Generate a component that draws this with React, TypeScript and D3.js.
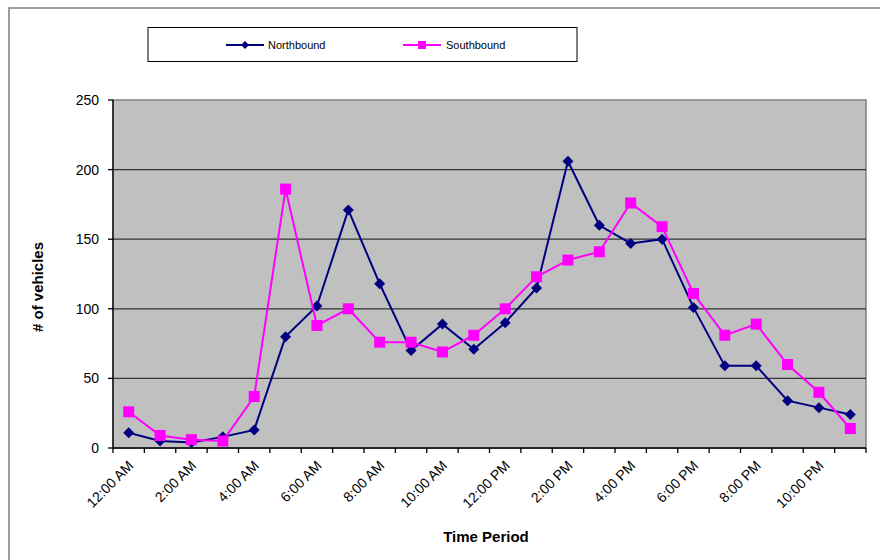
import React from "react";
import * as d3 from "d3";

const categories = [
  "12:00 AM", "1:00 AM", "2:00 AM", "3:00 AM", "4:00 AM", "5:00 AM",
  "6:00 AM", "7:00 AM", "8:00 AM", "9:00 AM", "10:00 AM", "11:00 AM",
  "12:00 PM", "1:00 PM", "2:00 PM", "3:00 PM", "4:00 PM", "5:00 PM",
  "6:00 PM", "7:00 PM", "8:00 PM", "9:00 PM", "10:00 PM", "11:00 PM",
];
const northbound = [11, 5, 4, 8, 13, 80, 102, 171, 118, 70, 89, 71, 90, 115, 206, 160, 147, 150, 101, 59, 59, 34, 29, 24];
const southbound = [26, 9, 6, 5, 37, 186, 88, 100, 76, 76, 69, 81, 100, 123, 135, 141, 176, 159, 111, 81, 89, 60, 40, 14];
const yTicks = [0, 50, 100, 150, 200, 250];
const shownLabels = ["12:00 AM", "2:00 AM", "4:00 AM", "6:00 AM", "8:00 AM", "10:00 AM", "12:00 PM", "2:00 PM", "4:00 PM", "6:00 PM", "8:00 PM", "10:00 PM"];

const W = 880, H = 560;
const L = 113, R = 866, T = 100, B = 448;
const FONT = "'Liberation Sans', Arial, sans-serif";
const NAVY = "#000080";
const MAGENTA = "#FF00FF";

export default function App() {
  const x = d3.scaleBand<string>().domain(categories).range([L, R]).padding(0);
  const y = d3.scaleLinear().domain([0, 250]).range([B, T]);
  const cx = (c: string) => (x(c) as number) + x.bandwidth() / 2;

  const line = d3
    .line<number>()
    .x((_, i) => cx(categories[i]))
    .y((d) => y(d));

  const diamond = (px: number, py: number, r: number) =>
    `M${px},${py - r}L${px + r},${py}L${px},${py + r}L${px - r},${py}Z`;

  const boundaries = d3.range(categories.length + 1).map((i) => L + i * x.bandwidth());

  return (
    <svg width={W} height={H} style={{ position: "absolute", left: 0, top: 0, background: "#fff" }} fontFamily={FONT}>
      {/* outer chart border */}
      <rect x={9} y={8} width={W} height={H} fill="none" stroke="#808080" strokeWidth={1.5} />

      {/* legend */}
      <rect x={148} y={27.5} width={429} height={34} fill="#fff" stroke="#000" strokeWidth={1} />
      <line x1={226} x2={264} y1={45} y2={45} stroke={NAVY} strokeWidth={2} />
      <path d={diamond(245, 45, 4)} fill={NAVY} />
      <text x={268} y={49} fontSize={11} fill="#000">Northbound</text>
      <line x1={403} x2={441} y1={45} y2={45} stroke={MAGENTA} strokeWidth={2} />
      <rect x={418} y={41} width={8} height={8} fill={MAGENTA} />
      <text x={446} y={49} fontSize={11} fill="#000">Southbound</text>

      {/* plot area */}
      <rect x={L} y={T} width={R - L} height={B - T} fill="#C0C0C0" stroke="#808080" strokeWidth={1.5} />
      {yTicks.filter((t) => t > 0 && t < 250).map((t) => (
        <line key={t} x1={L} x2={R} y1={y(t)} y2={y(t)} stroke="#333" strokeWidth={1.3} />
      ))}

      {/* y axis */}
      <line x1={L} x2={L} y1={T} y2={B} stroke="#000" strokeWidth={1.3} />
      {yTicks.map((t) => (
        <g key={t}>
          <line x1={L - 5} x2={L} y1={y(t)} y2={y(t)} stroke="#000" strokeWidth={1.3} />
          <text x={99} y={y(t)} dy="0.36em" textAnchor="end" fontSize={14} fill="#000">{t}</text>
        </g>
      ))}

      {/* x axis */}
      <line x1={L} x2={R} y1={B} y2={B} stroke="#000" strokeWidth={1.3} />
      {boundaries.map((bx, i) => (
        <line key={i} x1={bx} x2={bx} y1={B} y2={B + 5} stroke="#000" strokeWidth={1.3} />
      ))}
      {shownLabels.map((c) => (
        <text
          key={c}
          transform={`translate(${cx(c) + 2},${B + 15}) rotate(-45)`}
          textAnchor="end"
          dy="0.36em"
          fontSize={14}
          fill="#000"
        >
          {c}
        </text>
      ))}

      {/* series */}
      <path d={line(northbound) || ""} fill="none" stroke={NAVY} strokeWidth={2} />
      {northbound.map((v, i) => (
        <path key={i} d={diamond(cx(categories[i]), y(v), 5.5)} fill={NAVY} />
      ))}
      <path d={line(southbound) || ""} fill="none" stroke={MAGENTA} strokeWidth={2} />
      {southbound.map((v, i) => (
        <rect key={i} x={cx(categories[i]) - 5.5} y={y(v) - 5.5} width={11} height={11} fill={MAGENTA} />
      ))}

      {/* axis titles */}
      <text x={486} y={542} textAnchor="middle" fontSize={15} fontWeight="bold" fill="#000">Time Period</text>
      <text transform="translate(43,287) rotate(-90)" textAnchor="middle" fontSize={15} fontWeight="bold" fill="#000"># of vehicles</text>
    </svg>
  );
}
